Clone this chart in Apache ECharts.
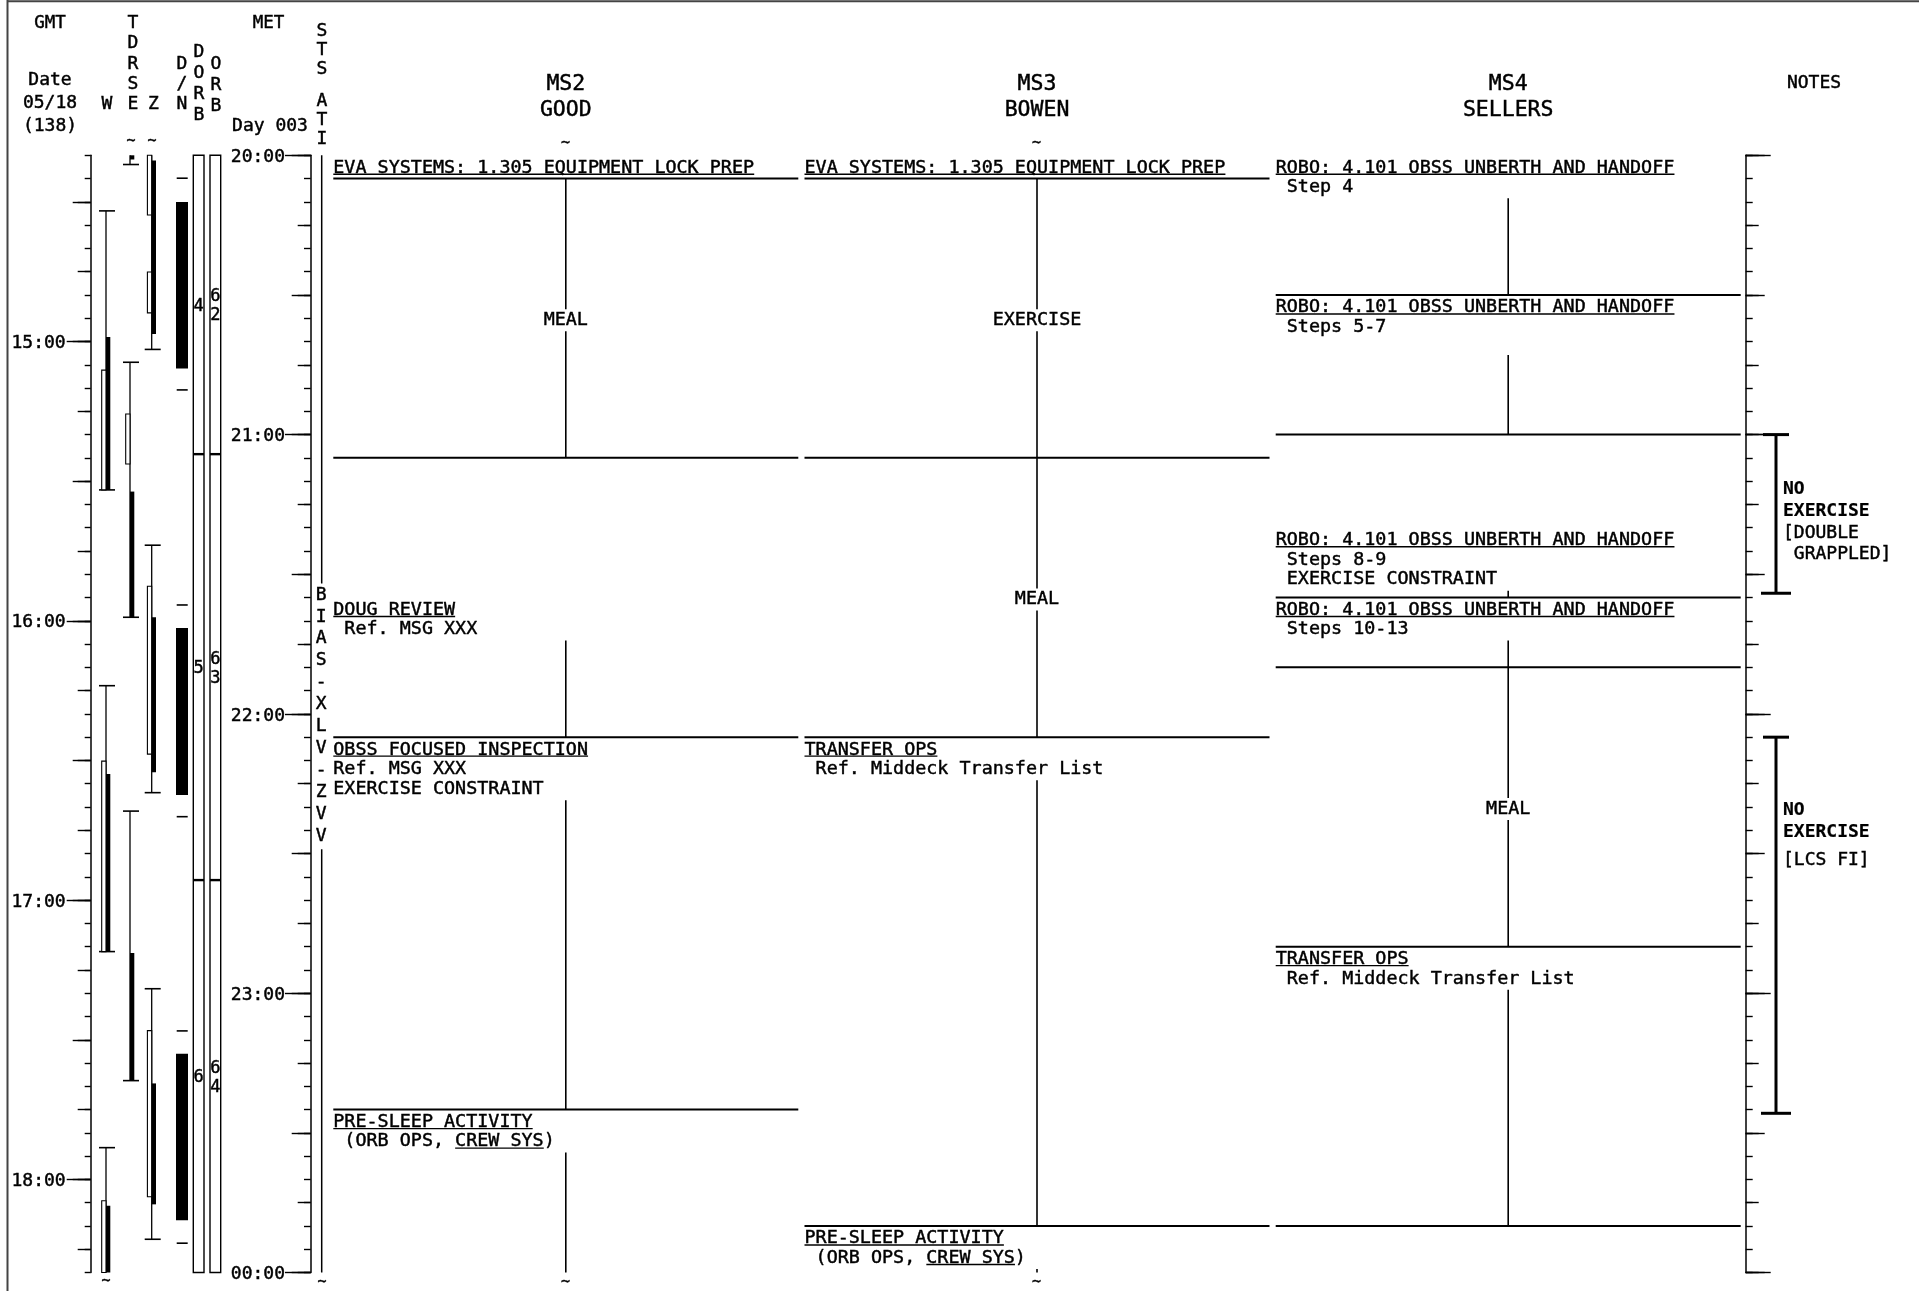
<!DOCTYPE html>
<html>
<head>
<meta charset="utf-8">
<title>Crew Activity Timeline</title>
<script src="https://cdn.jsdelivr.net/npm/echarts@6.0.0/dist/echarts.min.js"></script>
<style>
html,body{margin:0;padding:0;background:#fff;}
#chart{width:1919px;height:1291px;}
</style>
</head>
<body>
<div id="chart"></div>
<script>
// ================= DATA (times in MET hours, 24 = 00:00) =================
const metRange = [20, 24];
const metHourLabels = ['20:00', '21:00', '22:00', '23:00', '00:00'];
const gmtHourLabels = ['15:00', '16:00', '17:00', '18:00'];
const gmtStartLabel = '14:20';          // GMT at MET 20:00
const metStartLabel = '20:00';

const dateLines = ['Date', '05/18', '(138)'];
const metDayLabel = 'Day 003';

// TDRS coverage (W, E, Z): link spans, open (white) bars, solid (black) bars
const tdrsWLinks = [[20.199, 21.198], [21.899, 22.851], [23.553, 24.0]];
const tdrsWOpen  = [[20.769, 21.198], [22.169, 22.851], [23.743, 24.0]];
const tdrsWSolid = [[20.651, 21.198], [22.215, 22.851], [23.761, 24.0]];
const tdrsELinks = [[19.9, 20.033], [20.741, 21.654], [22.348, 23.313]];
const tdrsEOpen  = [[20.926, 21.105]];
const tdrsESolid = [[20.0, 20.015], [21.204, 21.654], [22.856, 23.313]];
const tdrsZLinks = [[19.9, 20.695], [21.396, 22.282], [22.984, 23.881]];
const tdrsZOpen  = [[20.0, 20.214], [20.418, 20.564], [21.543, 22.144], [23.134, 23.729]];
const tdrsZSolid = [[20.019, 20.640], [21.654, 22.209], [23.323, 23.756]];

// Day / night
const nightPeriods = [[20.167, 20.763], [21.692, 22.290], [23.217, 23.813]];
const terminatorMarks = [20.082, 20.840, 21.610, 22.368, 23.135, 23.895];

// Orbit counters
const orbitBreaks = [21.07, 22.595];
const dorbNumbers = ['4', '5', '6'];
const orbNumbers = ['62', '63', '64'];

// STS attitude
const attitudeLabel = 'BIAS -XLV -ZVV';
const attitudeAt = 22.0;

// Crew
const crewIds = ['MS2', 'MS3', 'MS4'];
const crewNames = ['GOOD', 'BOWEN', 'SELLERS'];

const ms2Activities = [
  { start: 20.0,    end: 20.0833, title: 'EVA SYSTEMS: 1.305 EQUIPMENT LOCK PREP' },
  { start: 20.0833, end: 21.0833, center: 'MEAL' },
  { start: 21.5833, end: 22.0833, title: 'DOUG REVIEW', notes: [' Ref. MSG XXX'] },
  { start: 22.0833, end: 23.4167, title: 'OBSS FOCUSED INSPECTION', notes: ['Ref. MSG XXX', 'EXERCISE CONSTRAINT'] },
  { start: 23.4167, end: 24.0,    title: 'PRE-SLEEP ACTIVITY', notes: [' (ORB OPS, CREW SYS)'], underline: 'CREW SYS' }
];
const ms3Activities = [
  { start: 20.0,    end: 20.0833, title: 'EVA SYSTEMS: 1.305 EQUIPMENT LOCK PREP' },
  { start: 20.0833, end: 21.0833, center: 'EXERCISE' },
  { start: 21.0833, end: 22.0833, center: 'MEAL' },
  { start: 22.0833, end: 23.8333, title: 'TRANSFER OPS', notes: [' Ref. Middeck Transfer List'] },
  { start: 23.8333, end: 24.0,    title: 'PRE-SLEEP ACTIVITY', notes: [' (ORB OPS, CREW SYS)'], underline: 'CREW SYS' }
];
const ms4Activities = [
  { start: 20.0,    end: 20.5,    title: 'ROBO: 4.101 OBSS UNBERTH AND HANDOFF', notes: [' Step 4'] },
  { start: 20.5,    end: 21.0,    title: 'ROBO: 4.101 OBSS UNBERTH AND HANDOFF', notes: [' Steps 5-7'], lineFrom: 20.715 },
  { start: 21.3333, end: 21.5833, title: 'ROBO: 4.101 OBSS UNBERTH AND HANDOFF', notes: [' Steps 8-9', ' EXERCISE CONSTRAINT'] },
  { start: 21.5833, end: 21.8333, title: 'ROBO: 4.101 OBSS UNBERTH AND HANDOFF', notes: [' Steps 10-13'] },
  { start: 21.8333, end: 22.8333, center: 'MEAL' },
  { start: 22.8333, end: 23.8333, title: 'TRANSFER OPS', notes: [' Ref. Middeck Transfer List'] }
];

// Notes column
const notesHeader = 'NOTES';
const noExerciseNotes = [
  { start: 21.0,    end: 21.568, labelAt: 21.195, lines: ['NO', 'EXERCISE', '[DOUBLE', ' GRAPPLED]'] },
  { start: 22.0833, end: 23.43,  labelAt: 22.345, lines: ['NO', 'EXERCISE', '[LCS FI]'] }
];

// ================= LAYOUT / STYLE =================
const MONO = '"DejaVu Sans Mono", monospace';
const L = {
  top: 155.3, height: 1117.2,
  gmtAxisX: 90.7, metAxisX: 310.7, notesAxisX: 1745.7,
  tdrsX: [106, 130, 151.7],
  dnX: [176, 188], dorbX: [193.3, 204], orbX: [210, 220.7], stsX: 321.7,
  crewX0: [333.3, 804.5, 1275.7], crewW: 465,
  bracketX: 1776, bracketCap: 13, noteTextX: 1783,
  noteLineY: [[0, 22, 44, 65], [0, 22, 50]],
  body: 18.4, lineStep: 19.5, textDy: 12.6, underDy: 19
};
L.charW = 0.602 * L.body;
const INK = '#000';
const WEIGHT = 0.45; // faint outline to match the heavier printed glyphs

function fiveMinuteCategories(startLabel, hours) {
  const [h0, m0] = startLabel.split(':').map(Number);
  const out = [];
  for (let m = 0; m <= hours * 60; m += 5) {
    const tot = h0 * 60 + m0 + m;
    out.push(String(Math.floor(tot / 60) % 24).padStart(2, '0') + ':' + String(tot % 60).padStart(2, '0'));
  }
  return out;
}
const metCats = fiveMinuteCategories(metStartLabel, metRange[1] - metRange[0]);
const gmtCats = fiveMinuteCategories(gmtStartLabel, metRange[1] - metRange[0]);

function tickAxes(gridIndex, cats, lens, inside, hourLabels, margin) {
  return [5, 15, 30, 60].map((step, k) => ({
    gridIndex, type: 'category', data: cats, boundaryGap: false, inverse: true, position: 'left',
    axisLine: { show: k === 0, lineStyle: { color: INK, width: 1.5 } },
    axisTick: { show: true, inside, length: lens[k], interval: (i, v) => (+String(v).slice(3)) % step === 0,
                lineStyle: { color: INK, width: 1.4 } },
    axisLabel: (step === 60 && hourLabels) ? {
      show: true, interval: (i, v) => hourLabels.indexOf(v) >= 0, margin,
      color: INK, fontFamily: MONO, fontSize: 18, verticalAlign: 'top', lineHeight: 4,
      textBorderColor: INK, textBorderWidth: WEIGHT
    } : { show: false },
    splitLine: { show: false }, axisPointer: { show: false }
  }));
}

// primitives
const ln = (x1, y1, x2, y2, w) => ({ type: 'line', shape: { x1, y1, x2, y2 }, style: { stroke: INK, lineWidth: w } });
const rc = (x, y, w, h, fill, lw) => ({ type: 'rect', shape: { x, y, width: w, height: h }, style: { fill, stroke: lw ? INK : null, lineWidth: lw || 0 } });
const tx = (text, x, y, size, o = {}) => ({
  type: 'text', x, y, z2: 10,
  style: { text, font: (o.bold ? 'bold ' : '') + size + 'px ' + MONO, fill: INK,
           stroke: INK, lineWidth: o.bold ? 0.2 : WEIGHT,
           align: o.align || 'left', verticalAlign: 'middle',
           backgroundColor: o.bg || null, padding: o.bg ? [2, 3] : 0, lineHeight: o.lh || null }
});
const clampT = t => Math.max(metRange[0], Math.min(metRange[1], t));

function customSeries(name, items, draw) {
  return {
    type: 'custom', name, xAxisIndex: 0, yAxisIndex: 0, silent: true, clip: false,
    data: items.map((_, i) => [i, 22]),
    renderItem: (params, api) => {
      const Y = t => api.coord([0, clampT(t)])[1];
      return { type: 'group', children: draw(items[params.dataIndex], Y, params.dataIndex) };
    }
  };
}

// ---- TDRS items
const tdrsItems = [];
[[tdrsWLinks, tdrsWOpen, tdrsWSolid], [tdrsELinks, tdrsEOpen, tdrsESolid], [tdrsZLinks, tdrsZOpen, tdrsZSolid]]
  .forEach(([links, open, solid], c) => {
    links.forEach(s => tdrsItems.push({ k: 'link', c, s: s[0], e: s[1] }));
    open.forEach(s => tdrsItems.push({ k: 'open', c, s: s[0], e: s[1] }));
    solid.forEach(s => tdrsItems.push({ k: 'solid', c, s: s[0], e: s[1] }));
  });
const tdrsSeries = customSeries('TDRS', tdrsItems, (it, Y) => {
  const x = L.tdrsX[it.c], y0 = Y(it.s), y1 = Y(it.e), out = [];
  if (it.k === 'link') {
    out.push(ln(x, y0, x, y1, 1.3));
    if (it.s > metRange[0]) out.push(ln(x - 7, y0, x + 9, y0, 1.6));
    if (it.e < metRange[1]) out.push(ln(x - 7, y1, x + 9, y1, 1.6));
  } else if (it.k === 'open') {
    out.push(rc(x - 4.3, y0, 4.3, y1 - y0, '#fff', 1.1));
  } else {
    out.push(rc(x, y0, 4.3, y1 - y0, INK, 0));
  }
  return out;
});

// ---- Day/night, orbit counters, STS attitude
const orbitItems = [];
nightPeriods.forEach(p => orbitItems.push({ k: 'night', s: p[0], e: p[1] }));
terminatorMarks.forEach(t => orbitItems.push({ k: 'mark', s: t }));
const orbitEdges = [metRange[0]].concat(orbitBreaks, [metRange[1]]);
orbitItems.push({ k: 'frames' });
dorbNumbers.forEach((n, i) => orbitItems.push({ k: 'dorb', s: orbitEdges[i], e: orbitEdges[i + 1], label: n }));
orbNumbers.forEach((n, i) => orbitItems.push({ k: 'orb', s: orbitEdges[i], e: orbitEdges[i + 1], label: n.split('').join('\n') }));
orbitItems.push({ k: 'sts' });
const orbitSeries = customSeries('Orbit', orbitItems, (it, Y) => {
  const out = [];
  if (it.k === 'night') out.push(rc(L.dnX[0], Y(it.s), L.dnX[1] - L.dnX[0], Y(it.e) - Y(it.s), INK, 0));
  else if (it.k === 'mark') out.push(ln(L.dnX[0] + 0.7, Y(it.s), L.dnX[1] - 0.3, Y(it.s), 1.6));
  else if (it.k === 'frames') {
    const yt = Y(metRange[0]), yb = Y(metRange[1]);
    [L.dorbX, L.orbX].forEach(xr => {
      out.push(rc(xr[0], yt, xr[1] - xr[0], yb - yt, null, 1.4));
      orbitBreaks.forEach(b => out.push(ln(xr[0], Y(b), xr[1], Y(b), 2.4)));
    });
  } else if (it.k === 'dorb' || it.k === 'orb') {
    const xr = it.k === 'dorb' ? L.dorbX : L.orbX;
    out.push(tx(it.label, (xr[0] + xr[1]) / 2, (Y(it.s) + Y(it.e)) / 2 + 1.5, 17, { align: 'center', lh: 19 }));
  } else if (it.k === 'sts') {
    const chars = attitudeLabel.replace(/ /g, '').split('');
    const step = 21.9, yc = Y(attitudeAt);
    const first = yc - step * (chars.length - 1) / 2, last = yc + step * (chars.length - 1) / 2;
    out.push(ln(L.stsX, Y(metRange[0]), L.stsX, first - 10, 1.5));
    out.push(ln(L.stsX, last + 15, L.stsX, Y(metRange[1]), 1.5));
    chars.forEach((c, i) => out.push(tx(c, L.stsX - 0.5, first + i * step + 1.5, 18, { align: 'center' })));
  }
  return out;
});

// ---- Crew activities
const crewItems = [];
[ms2Activities, ms3Activities, ms4Activities].forEach((acts, c) => acts.forEach(a => crewItems.push(Object.assign({ c }, a))));
const crewSeries = customSeries('Crew', crewItems, (a, Y) => {
  const x0 = L.crewX0[a.c], W = L.crewW, cx = x0 + W / 2, out = [];
  const y0 = Y(a.start), y1 = Y(a.end);
  if (a.end < metRange[1]) out.push(ln(x0, y1, x0 + W, y1, 2));
  if (a.center) {
    out.push(ln(cx, y0, cx, y1, 1.6));
    out.push(tx(a.center, cx, (y0 + y1) / 2 + 2, L.body, { align: 'center', bg: '#fff' }));
  } else {
    const lines = [a.title].concat(a.notes || []);
    lines.forEach((t, k) => out.push(tx(t, x0, y0 + L.textDy + L.lineStep * k, L.body)));
    out.push(ln(x0, y0 + L.underDy, x0 + a.title.length * L.charW, y0 + L.underDy, 1.4));
    if (a.underline) {
      const idx = a.notes[0].indexOf(a.underline);
      const uy = y0 + L.underDy + L.lineStep;
      out.push(ln(x0 + idx * L.charW, uy, x0 + (idx + a.underline.length) * L.charW, uy, 1.4));
    }
    const vs = a.lineFrom != null ? Y(a.lineFrom) : y0 + 3 + 20 * lines.length;
    if (vs < y1) out.push(ln(cx, vs, cx, y1, 1.6));
  }
  return out;
});

// ---- Notes brackets
const notesSeries = customSeries('Notes', noExerciseNotes, (n, Y, idx) => {
  const x = L.bracketX, y0 = Y(n.start), y1 = Y(n.end), out = [];
  out.push(ln(x, y0, x, y1, 3));
  out.push(ln(x - L.bracketCap, y0, x + L.bracketCap, y0, 3));
  out.push(ln(x - L.bracketCap - 2, y1, x + L.bracketCap + 2, y1, 3));
  const yl = Y(n.labelAt);
  n.lines.forEach((t, k) => out.push(tx(t, L.noteTextX, yl + L.noteLineY[idx][k], 18, { bold: k < 2 })));
  return out;
});

// ---- Header (static text)
const gtext = (text, x, y, size, align) => ({
  type: 'text', x, y: y + 1.5, silent: true,
  style: { text, font: size + 'px ' + MONO, fill: INK, stroke: INK, lineWidth: WEIGHT,
           align: align || 'center', verticalAlign: 'middle' }
});
const stack = (word, x, yTop, step, size) => word.split('').map((c, i) => gtext(c, x, yTop + i * step, size));
const graphics = [
  { type: 'line', shape: { x1: 7.5, y1: 0, x2: 7.5, y2: 1291 }, style: { stroke: '#444', lineWidth: 2 }, silent: true },
  { type: 'line', shape: { x1: 7.5, y1: 1.2, x2: 1919, y2: 1.2 }, style: { stroke: '#444', lineWidth: 2 }, silent: true },
  gtext('GMT', 50, 22, 17.5),
  ...dateLines.map((t, i) => gtext(t, 50, 79 + 23 * i, 18)),
  gtext('W', 107, 103, 18),
  ...stack('TDRSE', 133, 22, 20.25, 18),
  gtext('Z', 153.5, 103, 18),
  ...stack('D/N', 182, 63, 20, 18),
  ...stack('DORB', 199, 51, 20.8, 18),
  ...stack('ORB', 216, 63, 21, 18),
  gtext('MET', 268.5, 22, 17.5),
  gtext(metDayLabel, 270, 125, 18),
  ...stack('STS', 322, 30, 18.8, 18),
  ...stack('ATI', 322, 100, 19, 18),
  gtext(notesHeader, 1814, 82, 18),
  ...crewIds.map((id, i) => gtext(id, L.crewX0[i] + L.crewW / 2, 83, 21.5)),
  ...crewNames.map((nm, i) => gtext(nm, L.crewX0[i] + L.crewW / 2, 109, 21.5)),
  ...[[131, 141], [152, 141], [565.5, 143], [1036.5, 143], [106, 1281], [322, 1282], [565.5, 1282], [1036.5, 1282]]
    .map(p => gtext('~', p[0], p[1] - 1.5, 15))
];

const chart = echarts.init(document.getElementById('chart'), null, { renderer: 'canvas' });
chart.setOption({
  animation: false,
  backgroundColor: '#fff',
  grid: [
    { left: 0, top: L.top, width: 1919, height: L.height },
    { left: L.gmtAxisX, top: L.top, width: 10, height: L.height },
    { left: L.metAxisX, top: L.top, width: 10, height: L.height },
    { left: L.notesAxisX, top: L.top, width: 10, height: L.height }
  ],
  xAxis: [0, 1, 2, 3].map(g => ({ gridIndex: g, type: 'value', min: 0, max: g === 0 ? 1919 : 1, show: false })),
  yAxis: [
    { gridIndex: 0, type: 'value', min: metRange[0], max: metRange[1], inverse: true, show: false },
    ...tickAxes(1, gmtCats, [6, 13, 18, 24], false, gmtHourLabels, 25),
    ...tickAxes(2, metCats, [6.7, 13, 19, 25.7], false, metHourLabels, 25.7),
    ...tickAxes(3, metCats, [7, 13, 19, 25], true, null, 0)
  ],
  graphic: { elements: graphics },
  series: [tdrsSeries, orbitSeries, crewSeries, notesSeries]
});
</script>
</body>
</html>
